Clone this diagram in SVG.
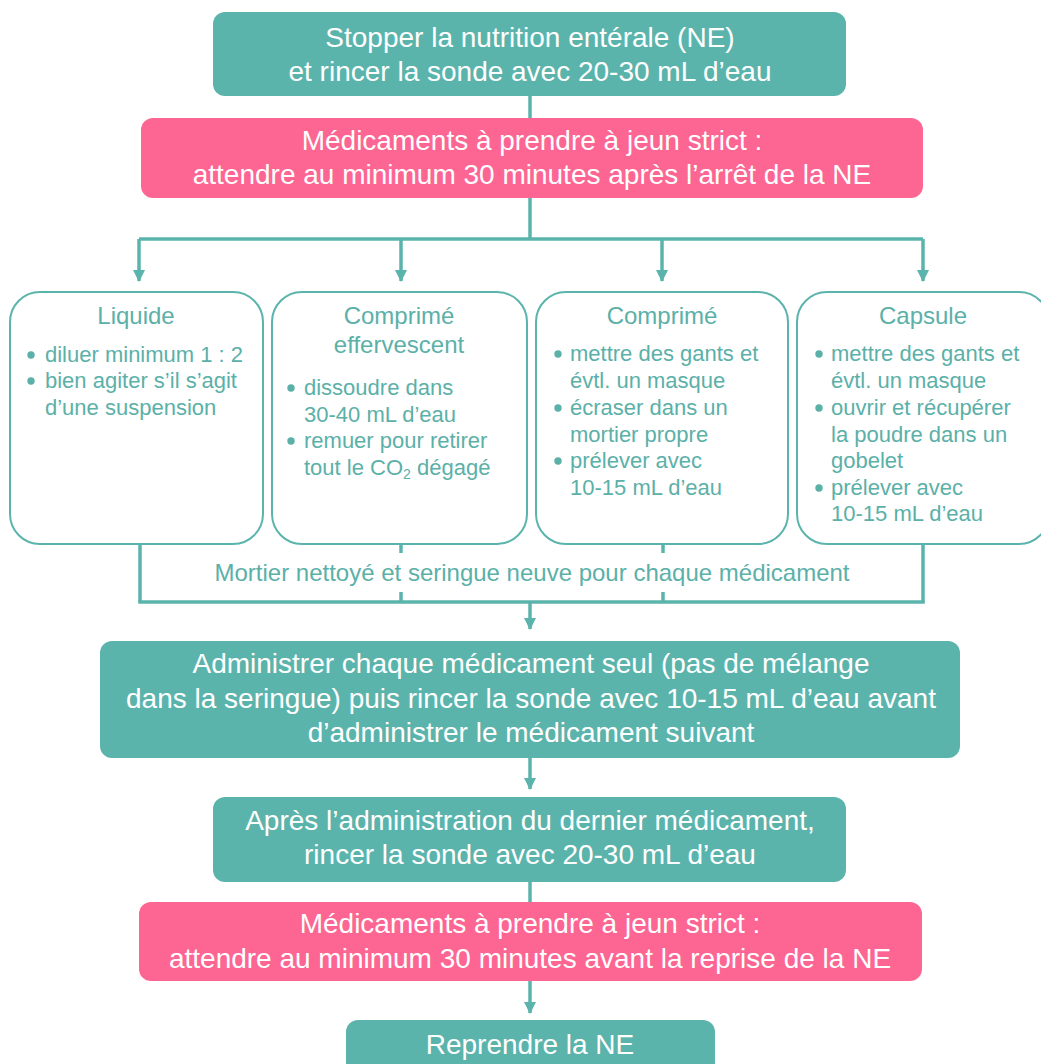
<svg xmlns="http://www.w3.org/2000/svg" width="1041" height="1064" viewBox="0 0 1041 1064">
<style>
  .teal { fill: #5bb4ac; }
  .pink { fill: #fd6592; }
  .card { fill: #ffffff; stroke: #5bb4ac; stroke-width: 2; }
  .main { font-family: "Liberation Sans", Arial, sans-serif; font-size: 28px; fill: #ffffff; text-anchor: middle; }
  .small { font-family: "Liberation Sans", Arial, sans-serif; font-size: 22px; fill: #5bb0a8; }
  .note { font-family: "Liberation Sans", Arial, sans-serif; font-size: 24px; fill: #5bb0a8; text-anchor: middle; }
  .title { font-family: "Liberation Sans", Arial, sans-serif; font-size: 24px; fill: #5bb0a8; text-anchor: middle; }
  .conn { stroke: #5bb4ac; stroke-width: 3.5; fill: none; }
  .bullet { fill: #5bb0a8; }
</style>
<defs>
  <marker id="arrow" markerUnits="userSpaceOnUse" markerWidth="12" markerHeight="12" refX="11" refY="6" orient="auto">
    <path d="M0,0 L12,6 L0,12 Z" fill="#5bb4ac"/>
  </marker>
</defs>
<rect width="1041" height="1064" fill="#ffffff"/>

<g id="connectors">
  <line class="conn" x1="530" y1="96" x2="530" y2="118"/>
  <line class="conn" x1="530" y1="198" x2="530" y2="239"/>
  <line class="conn" x1="139" y1="239" x2="923" y2="239"/>
  <line class="conn" x1="139" y1="239" x2="139" y2="281" marker-end="url(#arrow)"/>
  <line class="conn" x1="401" y1="239" x2="401" y2="281" marker-end="url(#arrow)"/>
  <line class="conn" x1="662" y1="239" x2="662" y2="281" marker-end="url(#arrow)"/>
  <line class="conn" x1="923" y1="239" x2="923" y2="281" marker-end="url(#arrow)"/>
  <line class="conn" x1="140" y1="544" x2="140" y2="602"/>
  <line class="conn" x1="401" y1="544" x2="401" y2="553"/>
  <line class="conn" x1="401" y1="592" x2="401" y2="602"/>
  <line class="conn" x1="663" y1="544" x2="663" y2="553"/>
  <line class="conn" x1="663" y1="592" x2="663" y2="602"/>
  <line class="conn" x1="923" y1="544" x2="923" y2="602"/>
  <line class="conn" x1="138.25" y1="602" x2="924.75" y2="602"/>
  <line class="conn" x1="530" y1="602" x2="530" y2="629" marker-end="url(#arrow)"/>
  <line class="conn" x1="530" y1="758" x2="530" y2="789" marker-end="url(#arrow)"/>
  <line class="conn" x1="530" y1="882" x2="530" y2="902"/>
  <line class="conn" x1="530" y1="981" x2="530" y2="1013" marker-end="url(#arrow)"/>
  <text class="note" x="532" y="581">Mortier nettoyé et seringue neuve pour chaque médicament</text>
</g>

<g id="stop">
  <rect class="teal" x="213" y="12" width="633" height="84" rx="12"/>
  <text class="main" x="530" y="47">Stopper la nutrition entérale (NE)</text>
  <text class="main" x="530" y="81">et rincer la sonde avec 20-30 mL d’eau</text>
</g>

<g id="jeun1">
  <rect class="pink" x="141" y="118" width="782" height="80" rx="12"/>
  <text class="main" x="532" y="150">Médicaments à prendre à jeun strict :</text>
  <text class="main" x="532" y="184">attendre au minimum 30 minutes après l’arrêt de la NE</text>
</g>

<g id="liquide">
  <rect class="card" x="10" y="292" width="253" height="252" rx="30"/>
  <text class="title" x="136" y="324">Liquide</text>
  <circle class="bullet" cx="31" cy="355" r="3.7"/>
  <circle class="bullet" cx="31" cy="381" r="3.7"/>
  <text class="small" x="45" y="362">diluer minimum 1 : 2</text>
  <text class="small" x="45" y="388">bien agiter s’il s’agit</text>
  <text class="small" x="45" y="415">d’une suspension</text>
</g>

<g id="effervescent">
  <rect class="card" x="272" y="292" width="255" height="252" rx="30"/>
  <text class="title" x="399" y="324">Comprimé</text>
  <text class="title" x="399" y="353">effervescent</text>
  <circle class="bullet" cx="291" cy="388" r="3.7"/>
  <circle class="bullet" cx="291" cy="441" r="3.7"/>
  <text class="small" x="304" y="395">dissoudre dans</text>
  <text class="small" x="304" y="422">30-40 mL d’eau</text>
  <text class="small" x="304" y="448">remuer pour retirer</text>
  <text class="small" x="304" y="475">tout le CO<tspan font-size="14" dy="4">2</tspan><tspan dy="-4"> dégagé</tspan></text>
</g>

<g id="comprime">
  <rect class="card" x="536" y="292" width="252" height="252" rx="30"/>
  <text class="title" x="662" y="324">Comprimé</text>
  <circle class="bullet" cx="558" cy="354" r="3.7"/>
  <circle class="bullet" cx="558" cy="408" r="3.7"/>
  <circle class="bullet" cx="558" cy="461" r="3.7"/>
  <text class="small" x="570" y="361">mettre des gants et</text>
  <text class="small" x="570" y="388">évtl. un masque</text>
  <text class="small" x="570" y="415">écraser dans un</text>
  <text class="small" x="570" y="442">mortier propre</text>
  <text class="small" x="570" y="468">prélever avec</text>
  <text class="small" x="570" y="495">10-15 mL d’eau</text>
</g>

<g id="capsule">
  <rect class="card" x="797" y="292" width="252" height="252" rx="30"/>
  <text class="title" x="923" y="324">Capsule</text>
  <circle class="bullet" cx="819" cy="354" r="3.7"/>
  <circle class="bullet" cx="819" cy="408" r="3.7"/>
  <circle class="bullet" cx="819" cy="488" r="3.7"/>
  <text class="small" x="831" y="361">mettre des gants et</text>
  <text class="small" x="831" y="388">évtl. un masque</text>
  <text class="small" x="831" y="415">ouvrir et récupérer</text>
  <text class="small" x="831" y="442">la poudre dans un</text>
  <text class="small" x="831" y="468">gobelet</text>
  <text class="small" x="831" y="495">prélever avec</text>
  <text class="small" x="831" y="521">10-15 mL d’eau</text>
</g>

<g id="administrer">
  <rect class="teal" x="100" y="641" width="860" height="117" rx="12"/>
  <text class="main" x="531" y="673">Administrer chaque médicament seul (pas de mélange</text>
  <text class="main" x="531" y="708">dans la seringue) puis rincer la sonde avec 10-15 mL d’eau avant</text>
  <text class="main" x="531" y="742">d’administrer le médicament suivant</text>
</g>

<g id="apres">
  <rect class="teal" x="213" y="797" width="633" height="85" rx="12"/>
  <text class="main" x="530" y="830">Après l’administration du dernier médicament,</text>
  <text class="main" x="530" y="864">rincer la sonde avec 20-30 mL d’eau</text>
</g>

<g id="jeun2">
  <rect class="pink" x="139" y="902" width="783" height="79" rx="12"/>
  <text class="main" x="530" y="933">Médicaments à prendre à jeun strict :</text>
  <text class="main" x="530" y="968">attendre au minimum 30 minutes avant la reprise de la NE</text>
</g>

<g id="reprendre">
  <rect class="teal" x="346" y="1020" width="369" height="70" rx="12"/>
  <text class="main" x="530" y="1054">Reprendre la NE</text>
</g>
</svg>
